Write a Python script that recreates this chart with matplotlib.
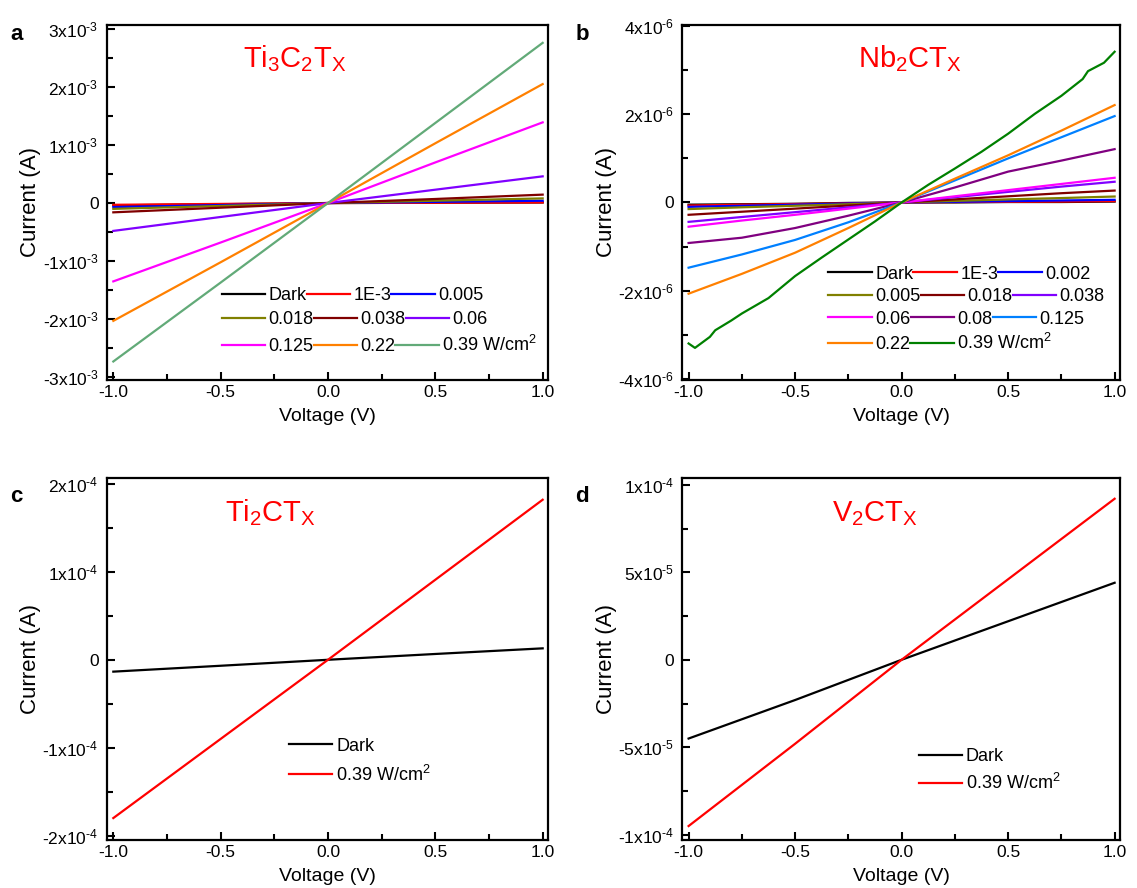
import numpy as np
import matplotlib
matplotlib.use("Agg")
import matplotlib.pyplot as plt
from matplotlib.legend import Legend
from matplotlib.ticker import FuncFormatter, MultipleLocator

plt.rcParams['font.family'] = ['Liberation Sans', 'DejaVu Sans']
plt.rcParams['mathtext.fontset'] = 'custom'
plt.rcParams['mathtext.rm'] = 'Liberation Sans'
plt.rcParams['mathtext.it'] = 'Liberation Sans:italic'
plt.rcParams['axes.unicode_minus'] = False

# ---- data ----
V5 = [-1.0, -0.5, 0.0, 0.5, 1.0]

# panel a: Ti3C2Tx, currents in A at V5
a_labels = ['Dark', '1E-3', '0.005', '0.018', '0.038', '0.06', '0.125', '0.22',
            '0.39 W/cm$^2$']
a_colors = ['#000000', '#ff0000', '#0000ff', '#808000', '#800000', '#8000ff',
            '#ff00ff', '#ff8000', '#62aa78']
a_curr = [
    [-0.04e-3, -0.02e-3, 0, 0.005e-3, 0.01e-3],
    [-0.03e-3, -0.015e-3, 0, 0.005e-3, 0.01e-3],
    [-0.07e-3, -0.035e-3, 0, 0.02e-3, 0.04e-3],
    [-0.10e-3, -0.05e-3, 0, 0.04e-3, 0.08e-3],
    [-0.16e-3, -0.08e-3, 0, 0.07e-3, 0.145e-3],
    [-0.48e-3, -0.24e-3, 0, 0.23e-3, 0.46e-3],
    [-1.35e-3, -0.68e-3, 0, 0.70e-3, 1.39e-3],
    [-2.03e-3, -1.02e-3, 0, 1.03e-3, 2.05e-3],
    [-2.73e-3, -1.37e-3, 0, 1.38e-3, 2.76e-3],
]

# panel b: Nb2CTx, currents in A at V9
V9 = [-1.0, -0.75, -0.5, -0.25, 0.0, 0.25, 0.5, 0.75, 1.0]
b_labels = ['Dark', '1E-3', '0.002', '0.005', '0.018', '0.038', '0.06', '0.08',
            '0.125', '0.22', '0.39 W/cm$^2$']
b_colors = ['#000000', '#ff0000', '#0000ff', '#808000', '#800000', '#8000ff',
            '#ff00ff', '#800080', '#0080ff', '#ff8000', '#008000']
b_curr = [
    [-0.05e-6, -0.04e-6, -0.03e-6, -0.01e-6, 0, 0.0, 0.01e-6, 0.01e-6, 0.02e-6],
    [-0.07e-6, -0.05e-6, -0.035e-6, -0.02e-6, 0, 0.01e-6, 0.015e-6, 0.02e-6, 0.03e-6],
    [-0.10e-6, -0.075e-6, -0.05e-6, -0.025e-6, 0, 0.015e-6, 0.03e-6, 0.045e-6, 0.06e-6],
    [-0.15e-6, -0.11e-6, -0.075e-6, -0.04e-6, 0, 0.035e-6, 0.07e-6, 0.10e-6, 0.135e-6],
    [-0.28e-6, -0.21e-6, -0.14e-6, -0.07e-6, 0, 0.07e-6, 0.14e-6, 0.21e-6, 0.27e-6],
    [-0.44e-6, -0.33e-6, -0.22e-6, -0.11e-6, 0, 0.12e-6, 0.24e-6, 0.36e-6, 0.47e-6],
    [-0.55e-6, -0.41e-6, -0.28e-6, -0.14e-6, 0, 0.14e-6, 0.28e-6, 0.42e-6, 0.56e-6],
    [-0.92e-6, -0.80e-6, -0.58e-6, -0.30e-6, 0, 0.34e-6, 0.70e-6, 0.95e-6, 1.21e-6],
    [-1.48e-6, -1.18e-6, -0.85e-6, -0.45e-6, 0, 0.50e-6, 1.00e-6, 1.48e-6, 1.96e-6],
    [-2.07e-6, -1.62e-6, -1.14e-6, -0.58e-6, 0, 0.54e-6, 1.07e-6, 1.63e-6, 2.21e-6],
    [-3.28e-6, -2.49e-6, -1.67e-6, -0.84e-6, 0, 0.77e-6, 1.56e-6, 2.42e-6, 3.42e-6],
]
# extra readings for the green 0.39 W/cm2 trace of panel b
b_green_v = [-1.0, -0.97, -0.9, -0.875, -0.8, -0.75, -0.625, -0.5, -0.375, -0.25,
             -0.125, 0.0, 0.125, 0.25, 0.375, 0.5, 0.625, 0.75, 0.85, 0.875, 0.95, 1.0]
b_green_i = [-3.20e-6, -3.30e-6, -3.05e-6, -2.90e-6, -2.68e-6, -2.52e-6, -2.17e-6,
             -1.67e-6, -1.25e-6, -0.84e-6, -0.43e-6, 0.0, 0.40e-6, 0.77e-6, 1.15e-6,
             1.56e-6, 2.01e-6, 2.42e-6, 2.80e-6, 2.98e-6, 3.17e-6, 3.42e-6]

# panel c: Ti2CTx
c_labels = ['Dark', '0.39 W/cm$^2$']
c_colors = ['#000000', '#ff0000']
c_curr = [
    [-1.35e-5, -0.68e-5, 0, 0.66e-5, 1.3e-5],
    [-1.80e-4, -0.90e-4, 0, 0.91e-4, 1.82e-4],
]

# panel d: V2CTx
d_labels = ['Dark', '0.39 W/cm$^2$']
d_colors = ['#000000', '#ff0000']
d_curr = [
    [-4.5e-5, -2.3e-5, 0, 2.2e-5, 4.4e-5],
    [-9.5e-5, -4.8e-5, 0, 4.6e-5, 9.2e-5],
]

HY = '\u2010'  # short hyphen as in the original tick labels


def sci_label(v, pos):
    if abs(v) < 1e-12:
        return '0'
    e = int(np.floor(np.log10(abs(v)) + 1e-9))
    m = int(round(v / 10 ** e))
    ms = (HY if m < 0 else '') + str(abs(m))
    es = (HY if e < 0 else '') + str(abs(e))
    return r'$\mathregular{%sx10^{%s}}$' % (ms, es)


def style_axes(ax, ylim, major, minor):
    ax.set_xlim(-1.03, 1.025)
    ax.set_ylim(*ylim)
    ax.xaxis.set_major_locator(MultipleLocator(0.5))
    ax.xaxis.set_minor_locator(MultipleLocator(0.25))
    ax.xaxis.set_major_formatter(FuncFormatter(lambda v, p: '%.1f' % v))
    ax.yaxis.set_major_locator(MultipleLocator(major))
    ax.yaxis.set_minor_locator(MultipleLocator(minor))
    ax.yaxis.set_major_formatter(FuncFormatter(sci_label))
    ax.tick_params(which='both', direction='in', width=1.5, labelsize=12.5,
                   top=False, right=False)
    ax.tick_params(axis='y', which='major', pad=6)
    ax.tick_params(which='major', length=6)
    ax.tick_params(which='minor', length=4)
    for s in ax.spines.values():
        s.set_linewidth(1.6)
    ax.set_xlabel('Voltage (V)', fontsize=14, labelpad=6)
    ax.set_ylabel('Current (A)', fontsize=16)
    ax.yaxis.set_label_coords(-0.15, 0.5)


def add_legend(ax, per_row, x, top, step):
    # each row is laid out on its own, so the text flows like the original
    h, l = ax.get_legend_handles_labels()
    for r, start in enumerate(range(0, len(h), per_row)):
        hh, ll = h[start:start + per_row], l[start:start + per_row]
        leg = Legend(ax, hh, ll, ncol=len(hh), loc='upper left',
                     bbox_to_anchor=(x, top - r * step), frameon=False,
                     fontsize=13, handlelength=2.4, handletextpad=0.2,
                     columnspacing=0.0, borderpad=0, borderaxespad=0)
        ax.add_artist(leg)


fig = plt.figure(figsize=(11.37, 8.88), dpi=100)
ax_a = fig.add_axes([0.094, 0.572, 0.388, 0.400])
ax_b = fig.add_axes([0.600, 0.572, 0.385, 0.400])
ax_c = fig.add_axes([0.094, 0.054, 0.388, 0.408])
ax_d = fig.add_axes([0.600, 0.054, 0.385, 0.408])

# a
for cur, lab, col in zip(a_curr, a_labels, a_colors):
    ax_a.plot(V5, cur, color=col, lw=1.6, label=lab)
style_axes(ax_a, (-3.05e-3, 3.07e-3), 1e-3, 0.5e-3)
add_legend(ax_a, 3, 0.26, 0.262, 0.0676)
ax_a.text(0.426, 0.88, r'$\mathregular{Ti_3C_2T_X}$', transform=ax_a.transAxes,
          color='#ff0000', fontsize=21, ha='center', va='baseline')

# b
for i, (cur, lab, col) in enumerate(zip(b_curr, b_labels, b_colors)):
    if i == len(b_curr) - 1:
        ax_b.plot(b_green_v, b_green_i, color=col, lw=1.6, label=lab)
    else:
        ax_b.plot(V9, cur, color=col, lw=1.6, label=lab)
style_axes(ax_b, (-4.03e-6, 4.03e-6), 2e-6, 1e-6)
add_legend(ax_b, 3, 0.334, 0.322, 0.0634)
ax_b.text(0.52, 0.88, r'$\mathregular{Nb_2CT_X}$', transform=ax_b.transAxes,
          color='#ff0000', fontsize=21, ha='center', va='baseline')

# c
for cur, lab, col in zip(c_curr, c_labels, c_colors):
    ax_c.plot(V5, cur, color=col, lw=1.6, label=lab)
style_axes(ax_c, (-2.05e-4, 2.07e-4), 1e-4, 0.5e-4)
add_legend(ax_c, 1, 0.413, 0.283, 0.0746)
ax_c.text(0.37, 0.88, r'$\mathregular{Ti_2CT_X}$', transform=ax_c.transAxes,
          color='#ff0000', fontsize=21, ha='center', va='baseline')

# d
for cur, lab, col in zip(d_curr, d_labels, d_colors):
    ax_d.plot(V5, cur, color=col, lw=1.6, label=lab)
style_axes(ax_d, (-1.03e-4, 1.04e-4), 5e-5, 2.5e-5)
add_legend(ax_d, 1, 0.54, 0.253, 0.069)
ax_d.text(0.44, 0.88, r'$\mathregular{V_2CT_X}$', transform=ax_d.transAxes,
          color='#ff0000', fontsize=21, ha='center', va='baseline')

# panel letters
for lab, x, y in [('a', 0.009, 0.955), ('b', 0.506, 0.955),
                  ('c', 0.009, 0.435), ('d', 0.506, 0.435)]:
    fig.text(x, y, lab, fontsize=16, fontweight='bold')

fig.savefig('out.png', dpi=100)
